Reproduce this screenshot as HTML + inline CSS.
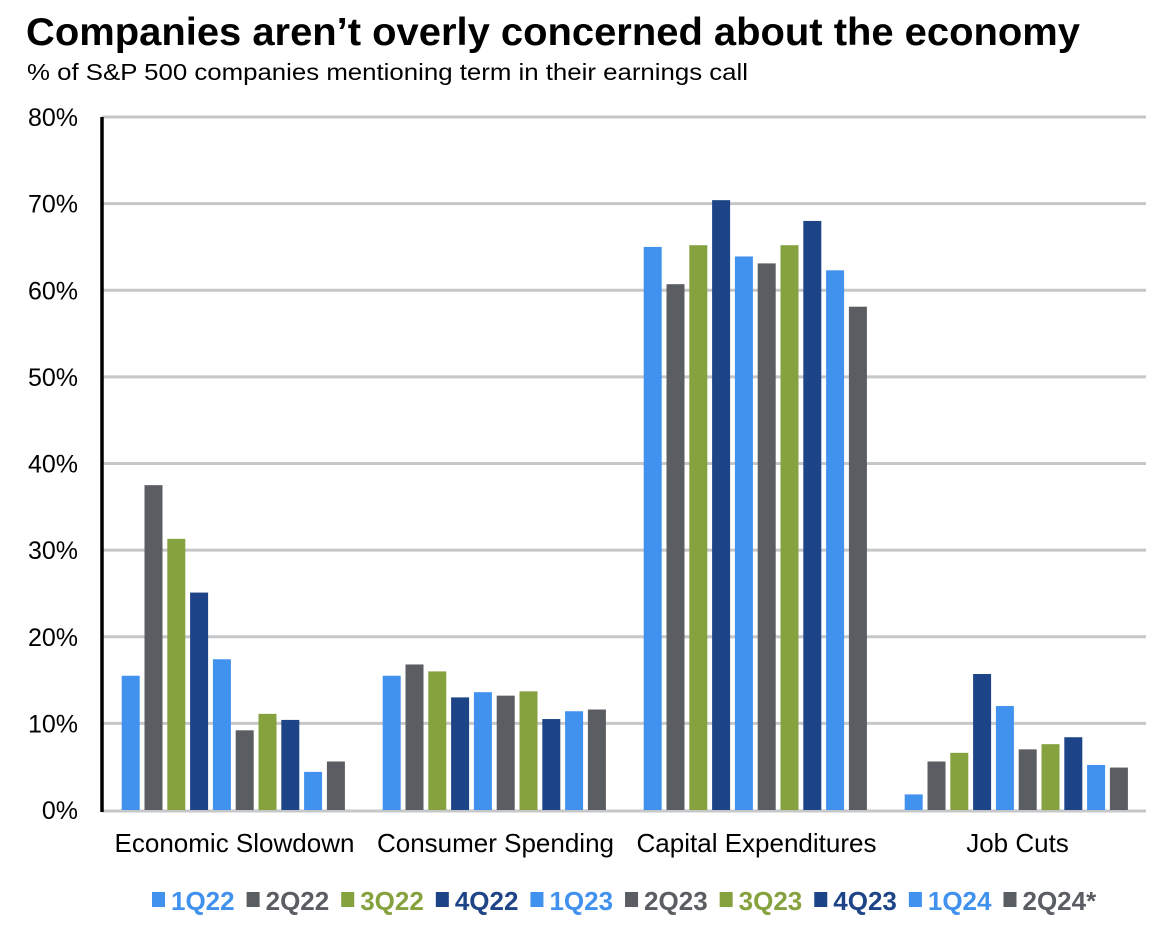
<!DOCTYPE html>
<html><head><meta charset="utf-8"><style>
body{margin:0;background:#fff;font-family:"Liberation Sans",Arial,sans-serif;}
#wrap{position:relative;width:1170px;height:934px;overflow:hidden;}
</style></head><body>
<div id="wrap">
<svg id="chart" width="1170" height="934" style="position:absolute;left:0;top:0">
<text x="26" y="45" font-size="39" font-weight="bold" fill="#000" textLength="1054" lengthAdjust="spacingAndGlyphs">Companies aren’t overly concerned about the economy</text>
<text x="27" y="80" font-size="23" fill="#000" textLength="721" lengthAdjust="spacingAndGlyphs">% of S&amp;P 500 companies mentioning term in their earnings call</text>
</svg>
</div>
<script>
const categories=["Economic Slowdown","Consumer Spending","Capital Expenditures","Job Cuts"];
const seriesNames=["1Q22","2Q22","3Q22","4Q22","1Q23","2Q23","3Q23","4Q23","1Q24","2Q24*"];
const economicSlowdown=[15.5,37.5,31.3,25.1,17.4,9.2,11.1,10.4,4.4,5.6];
const consumerSpending=[15.5,16.8,16.0,13.0,13.6,13.2,13.7,10.5,11.4,11.6];
const capitalExpenditures=[65.0,60.7,65.2,70.4,63.9,63.1,65.2,68.0,62.3,58.1];
const jobCuts=[1.8,5.6,6.6,15.7,12.0,7.0,7.6,8.4,5.2,4.9];
const yTicks=[0,10,20,30,40,50,60,70,80];
const seriesColors=["#4191ee","#5a5d61","#86a23f","#1e4488","#4191ee","#5a5d61","#86a23f","#1e4488","#4191ee","#5a5d61"];
const values=[economicSlowdown,consumerSpending,capitalExpenditures,jobCuts];

const svg=document.getElementById('chart');
const NS='http://www.w3.org/2000/svg';
const x0=102,x1=1146,yBase=810,yTop=117;
const y=v=>yBase-(v/80)*(yBase-yTop);
const groupW=(x1-x0)/categories.length;
const barStep=22.8,barW=18,groupOff=19.7;
const xBar=(g,i)=>x0+g*groupW+groupOff+i*barStep;
function mk(tag,attrs){const e=document.createElementNS(NS,tag);for(const k in attrs)e.setAttribute(k,attrs[k]);svg.appendChild(e);return e;}

yTicks.forEach(t=>{
  if(t>0){const l=mk('line',{x1:x0,x2:x1,y1:y(t),y2:y(t),stroke:'#c6c7c8','stroke-width':3});
  
  }
  const tx=mk('text',{x:78,y:y(t)+9,'text-anchor':'end','font-size':25,fill:'#000'});
  tx.textContent=t+'%';
  
  
});
const base=mk('line',{x1:x0,x2:x1,y1:yBase+1,y2:yBase+1,stroke:'#c6c7c8','stroke-width':3});



values.forEach((arr,g)=>{
  arr.forEach((v,i)=>{
    const r=mk('rect',{x:xBar(g,i),y:y(v),width:barW,height:yBase-y(v),fill:seriesColors[i]});
    
    
  });
  const t=mk('text',{x:x0+g*groupW+groupW/2+2,y:852,'text-anchor':'middle','font-size':26,fill:'#000'});
  t.textContent=categories[g];
  
  
});

const ax=mk('line',{x1:x0,x2:x0,y1:yTop,y2:yBase+2,stroke:'#000','stroke-width':3.5});



// legend
let lx=152;
seriesNames.forEach((n,i)=>{
  const sq=mk('rect',{x:lx,y:892,width:13,height:15,fill:seriesColors[i]});
  
  
  const t=mk('text',{x:lx+19,y:910,'font-size':26,'font-weight':'bold',fill:seriesColors[i]});
  t.textContent=n;
  
  
  lx+=19+t.getComputedTextLength()+12;
});
</script>
</body></html>
